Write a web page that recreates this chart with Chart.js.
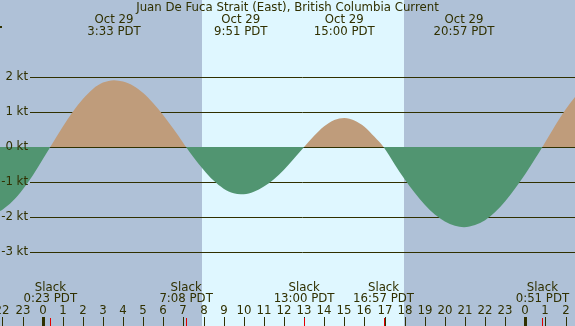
<!DOCTYPE html>
<html>
<head>
<meta charset="utf-8">
<script src="https://cdn.jsdelivr.net/npm/chart.js@4/dist/chart.umd.min.js"></script>
<style>
  html, body { margin: 0; padding: 0; background: #afc1d7; }
  #tideChart { display: block; }
</style>
</head>
<body>
<canvas id="tideChart" width="575" height="326"></canvas>
<script>
// hours from midnight Oct 29 (PDT), current speed in knots
const hours = [-2.5, -2, -1.5, -1, -0.5, 0, 0.38, 1, 1.5, 2, 2.5, 3, 3.55, 4, 4.5, 5, 5.5, 6, 6.5, 7, 7.13,
  7.5, 8, 8.5, 9, 9.5, 9.85, 10, 10.5, 11, 11.5, 12, 12.5, 13, 13.5, 14, 14.5, 15, 15.5, 16, 16.5, 16.95,
  17.5, 18, 18.5, 19, 19.5, 20, 20.5, 20.95, 21.5, 22, 22.5, 23, 23.5, 24, 24.5, 24.85, 25.5, 26, 26.5, 27];
const knots = [-1.93, -1.79, -1.55, -1.22, -0.82, -0.36, 0, 0.58, 1.01, 1.37, 1.66, 1.84, 1.91, 1.87, 1.75, 1.54, 1.25, 0.91, 0.52, 0.11, 0,
  -0.29, -0.65, -0.96, -1.19, -1.32, -1.35, -1.35, -1.28, -1.13, -0.92, -0.65, -0.33, 0, 0.32, 0.59, 0.77, 0.83, 0.76, 0.58, 0.29, 0,
  -0.49, -0.92, -1.31, -1.65, -1.93, -2.13, -2.25, -2.29, -2.23, -2.09, -1.86, -1.55, -1.18, -0.77, -0.32, 0, 0.63, 1.07, 1.45, 1.74];

const gridKnots = [2, 1, 0, -1, -2, -3];
const tickHours = [-2, -1, 0, 1, 2, 3, 4, 5, 6, 7, 8, 9, 10, 11, 12, 13, 14, 15, 16, 17, 18, 19, 20, 21, 22, 23, 24, 25, 26];
const tickLabels = ['22', '23', '0', '1', '2', '3', '4', '5', '6', '7', '8', '9', '10', '11', '12', '13', '14', '15', '16', '17', '18', '19', '20', '21', '22', '23', '0', '1', '2'];
const dayHours = [0, 24];

const eventHours = [3.55, 9.85, 15.0, 20.95];
const eventDates = ['Oct 29', 'Oct 29', 'Oct 29', 'Oct 29'];
const eventTimes = ['3:33 PDT', '9:51 PDT', '15:00 PDT', '20:57 PDT'];

const slackHours = [0.383, 7.133, 13.0, 16.95, 24.85];
const slackTimes = ['0:23 PDT', '7:08 PDT', '13:00 PDT', '16:57 PDT', '0:51 PDT'];

const sunrise = 7.9;
const sunset = 17.97;

const title = 'Juan De Fuca Strait (East), British Columbia Current';

const NIGHT = '#afc1d7';
const DAY = '#dff7ff';
const INK = '#303000';
const FONT = '11.75px "DejaVu Sans"';

const backdrop = {
  id: 'backdrop',
  beforeDraw(chart) {
    const { ctx, scales: { x, y }, width, height } = chart;
    ctx.save();
    ctx.fillStyle = NIGHT;
    ctx.fillRect(0, 0, width, height);
    ctx.fillStyle = DAY;
    const x0 = Math.round(x.getPixelForValue(sunrise));
    const x1 = Math.round(x.getPixelForValue(sunset));
    ctx.fillRect(x0, 0, x1 - x0, height);

    ctx.strokeStyle = INK;
    ctx.lineWidth = 1;
    gridKnots.forEach(k => {
      const py = Math.round(y.getPixelForValue(k)) + 0.5;
      ctx.beginPath();
      ctx.moveTo(30, py);
      ctx.lineTo(width, py);
      ctx.stroke();
    });
    ctx.restore();
  },
  afterDatasetsDraw(chart) {
    const { ctx, scales: { x, y }, width, height } = chart;
    ctx.save();
    ctx.font = FONT;
    ctx.fillStyle = INK;
    ctx.textBaseline = 'middle';

    // axis labels
    ctx.textAlign = 'right';
    gridKnots.forEach(k => {
      ctx.fillText(k + ' kt', 28, y.getPixelForValue(k));
    });

    // title and max/min events
    ctx.textAlign = 'center';
    ctx.fillText(title, width / 2, 8);
    eventHours.forEach((h, i) => {
      const px = x.getPixelForValue(h);
      ctx.fillText(eventDates[i], px, 20);
      ctx.fillText(eventTimes[i], px, 32);
    });

    // slack events
    slackHours.forEach((h, i) => {
      const px = x.getPixelForValue(h);
      ctx.fillText('Slack', px, 288);
      ctx.fillText(slackTimes[i], px, 299);
    });

    // hour labels and ticks
    tickHours.forEach((h, i) => {
      const px = Math.round(x.getPixelForValue(h));
      ctx.fillText(tickLabels[i], px, 311);
      ctx.fillRect(px, 317, 1, height - 317);
    });
    dayHours.forEach(h => {
      const px = Math.round(x.getPixelForValue(h));
      ctx.fillRect(px - 1, 317, 3, height - 317);
    });
    ctx.fillStyle = '#e00000';
    slackHours.forEach(h => {
      const px = Math.round(x.getPixelForValue(h));
      ctx.fillRect(px, 318, 1, height - 318);
    });

    ctx.fillStyle = INK;
    ctx.fillRect(0, 26, 2, 2);
    ctx.restore();
  }
};

new Chart(document.getElementById('tideChart'), {
  type: 'line',
  data: {
    datasets: [{
      data: hours.map((h, i) => ({ x: h, y: knots[i] })),
      borderWidth: 0,
      borderColor: 'rgba(0,0,0,0)',
      pointRadius: 0,
      cubicInterpolationMode: 'monotone',
      fill: { target: { value: 0 }, above: '#bf9c7b', below: '#519571' }
    }]
  },
  options: {
    responsive: false,
    devicePixelRatio: 1,
    animation: false,
    layout: { padding: 0 },
    plugins: { legend: { display: false }, tooltip: { enabled: false }, title: { display: false } },
    scales: {
      x: { type: 'linear', min: -2.12, max: 26.47, display: false },
      y: { min: -5.114, max: 4.2, display: false }
    }
  },
  plugins: [backdrop]
});
</script>
</body>
</html>
